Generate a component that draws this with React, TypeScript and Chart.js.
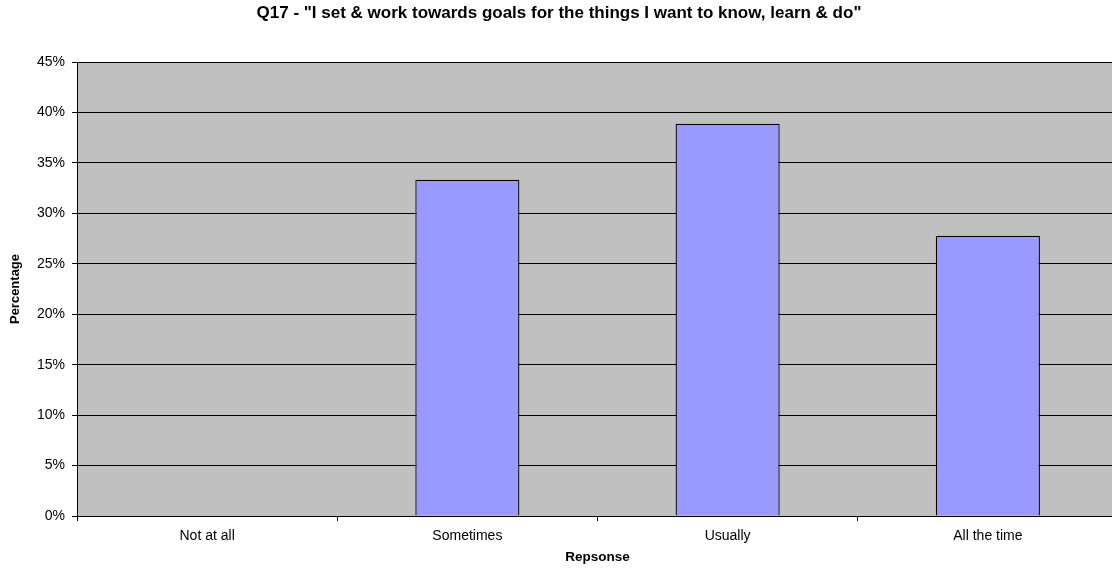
import React, { useEffect, useRef } from "react";
import { Chart, registerables } from "chart.js";

Chart.register(...registerables);

const categories = ["Not at all", "Sometimes", "Usually", "All the time"];
const percentages = [0, 33.33, 38.89, 27.78];
const chartTitle = 'Q17 - "I set & work towards goals for the things I want to know, learn & do"';
const xTitle = "Repsonse";
const yTitle = "Percentage";

const FONT = "'Liberation Sans', Arial, sans-serif";

const plotBg = {
  id: "plotBg",
  beforeDraw(chart: any) {
    const { ctx, chartArea } = chart;
    if (!chartArea) return;
    ctx.save();
    ctx.fillStyle = "#C0C0C0";
    ctx.fillRect(chartArea.left, chartArea.top, chartArea.right - chartArea.left, chartArea.bottom - chartArea.top);
    ctx.restore();
  },
};

const W = 1119;
const H = 568;

export default function App() {
  const ref = useRef<HTMLCanvasElement>(null);
  useEffect(() => {
    if (!ref.current) return;
    const chart = new Chart(ref.current, {
      type: "bar",
      data: {
        labels: categories,
        datasets: [
          {
            data: percentages,
            backgroundColor: "#9999FF",
            borderColor: "#000000",
            borderWidth: 1.3,
            barPercentage: 0.4,
            categoryPercentage: 1,
          },
        ],
      },
      plugins: [plotBg],
      options: {
        animation: false,
        responsive: false,
        maintainAspectRatio: false,
        layout: { padding: { left: 0, right: 1, top: 0, bottom: 0 } },
        plugins: {
          legend: { display: false },
          tooltip: { enabled: false },
          title: {
            display: true,
            text: chartTitle,
            color: "#000",
            font: { family: FONT, size: 17, weight: "bold" },
            padding: { top: 3, bottom: 38.6 },
          },
        },
        scales: {
          x: {
            afterFit(scale: any) {
              scale.height = 52;
            },
            grid: {
              offset: true,
              drawOnChartArea: false,
              color: "#000",
              tickLength: 5,
              tickColor: "#000",
            },
            border: { color: "#000", width: 1 },
            ticks: {
              color: "#000",
              padding: 7,
              font: { family: FONT, size: 14 },
            },
            title: {
              display: true,
              text: xTitle,
              color: "#000",
              font: { family: FONT, size: 13.5, weight: "bold" },
              padding: { top: 3, bottom: 3 },
            },
          },
          y: {
            min: 0,
            max: 45,
            afterFit(scale: any) {
              scale.width = 77;
            },
            grid: {
              color: "#000",
              tickLength: 5,
              tickColor: "#000",
            },
            border: { color: "#000", width: 1 },
            ticks: {
              stepSize: 5,
              color: "#000",
              padding: 7,
              font: { family: FONT, size: 14 },
              callback: (v: any) => v + "%",
            },
            title: {
              display: true,
              text: yTitle,
              color: "#000",
              font: { family: FONT, size: 13, weight: "bold" },
              padding: { top: 8, bottom: 4 },
            },
          },
        },
      },
    });
    return () => chart.destroy();
  }, []);
  return (
    <div style={{ position: "fixed", left: 0, top: 0, width: 1112, height: 568, overflow: "hidden", background: "#fff" }}>
      <canvas ref={ref} width={W} height={H} style={{ width: W, height: H, display: "block" }} />
    </div>
  );
}
